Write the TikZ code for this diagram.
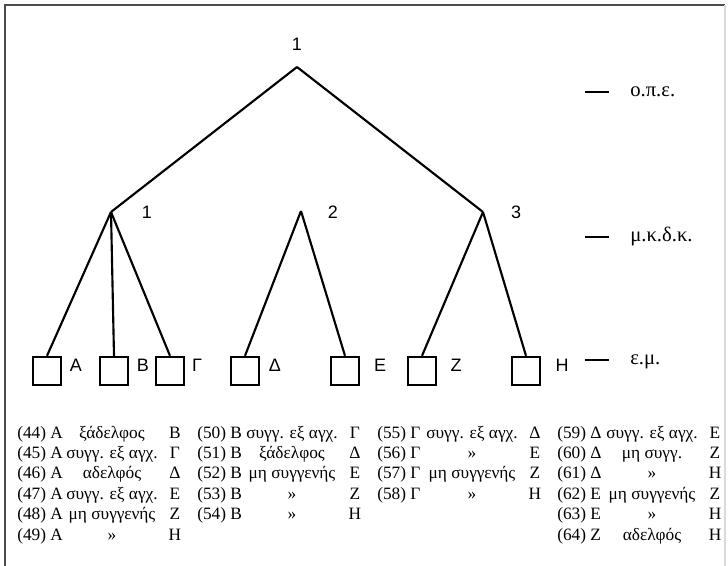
\documentclass[tikz,border=0pt]{standalone}
\usepackage{fontspec}
\setmainfont{Liberation Serif}
\newfontfamily\treefont{Liberation Sans}

\begin{document}
\begin{tikzpicture}[x=0.75pt,y=-0.75pt,
  branch/.style={line width=1.6pt},
  person/.style={draw,line width=1.8pt,minimum size=21pt,inner sep=0pt},
  lbl/.style={font=\treefont\fontsize{13.5}{16}\selectfont,anchor=base,inner sep=0pt},
  lvl/.style={font=\fontsize{15.5}{18}\selectfont,anchor=base west,inner sep=0pt},
  cell/.style={font=\fontsize{13}{15}\selectfont,anchor=base,inner sep=0pt}]
\useasboundingbox (0,0) rectangle (728,566);
\draw[line width=1.5pt,black!70] (5,566) -- (5,5) -- (725,5);
\draw[line width=0.8pt,black!15] (725,5) -- (725,566);

\coordinate (root) at (297,67);
\coordinate (v1) at (111,212);
\coordinate (v2) at (301,211);
\coordinate (v3) at (483,212);
\node[lbl] (g0) at (297,51) {1};
\node[lbl] (g1) at (147,219) {1};
\node[lbl] (g2) at (333,219) {2};
\node[lbl] (g3) at (516,219) {3};

\foreach \nm/\x/\lx/\t in {A/47/76/Α, B/114/143/Β, G/170/197/Γ, D/245/275/Δ, E/345/380/Ε, Z/422/456/Ζ, H/526/562/Η}
  {\node[person] (b\nm) at (\x,371) {};
   \node[lbl] (l\nm) at (\lx,372) {\t};}

\draw[branch] (root) -- (v1);
\draw[branch] (root) -- (v3);
\foreach \nm in {A,B,G} {\draw[branch] (v1) -- (b\nm.north);}
\foreach \nm in {D,E} {\draw[branch] (v2) -- (b\nm.north);}
\foreach \nm in {Z,H} {\draw[branch] (v3) -- (b\nm.north);}

\foreach \y/\t [count=\k] in {92/ο.π.ε., 237/μ.κ.δ.κ., 360/ε.μ.}
  {\coordinate (ds\k) at (585,\y);
   \coordinate (de\k) at (609,\y);
   \draw[line width=1.6pt] (ds\k) -- (de\k);
   \node[lvl] (lv\k) at (630,\y+5) {\t};}

\foreach \nr/\pa/\rl/\pb/\col/\row in {
  44/Α/ξάδελφος/Β/0/0, 45/Α/συγγ. εξ αγχ./Γ/0/1, 46/Α/αδελφός/Δ/0/2,
  47/Α/συγγ. εξ αγχ./Ε/0/3, 48/Α/μη συγγενής/Ζ/0/4, 49/Α/»/Η/0/5,
  50/Β/συγγ. εξ αγχ./Γ/1/0, 51/Β/ξάδελφος/Δ/1/1, 52/Β/μη συγγενής/Ε/1/2,
  53/Β/»/Ζ/1/3, 54/Β/»/Η/1/4,
  55/Γ/συγγ. εξ αγχ./Δ/2/0, 56/Γ/»/Ε/2/1, 57/Γ/μη συγγενής/Ζ/2/2, 58/Γ/»/Η/2/3,
  59/Δ/συγγ. εξ αγχ./Ε/3/0, 60/Δ/μη συγγ./Ζ/3/1, 61/Δ/»/Η/3/2,
  62/Ε/μη συγγενής/Ζ/3/3, 63/Ε/»/Η/3/4, 64/Ζ/αδελφός/Η/3/5}
  {\node[cell,anchor=base west] (num\nr) at (17+180*\col,438+20.4*\row) {(\nr)};
   \node[cell,anchor=base west] (fst\nr) at (50+180*\col,438+20.4*\row) {\pa};
   \node[cell] (rel\nr) at (112+180*\col,438+20.4*\row) {\rl};
   \node[cell] (snd\nr) at (175+180*\col,438+20.4*\row) {\pb};}
\end{tikzpicture}
\end{document}
